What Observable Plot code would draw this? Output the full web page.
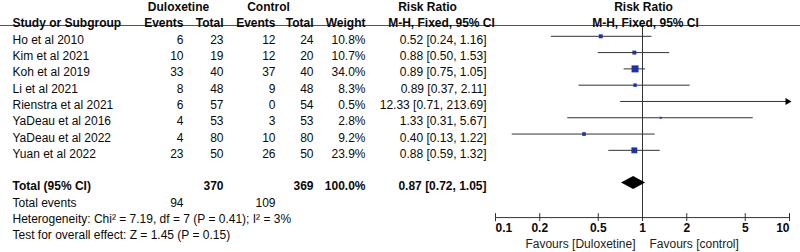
<!DOCTYPE html>
<html><head><meta charset="utf-8">
<script src="https://cdn.jsdelivr.net/npm/d3@7"></script>
<script src="https://cdn.jsdelivr.net/npm/@observablehq/plot@0.6"></script>
<style>html,body{margin:0;padding:0;background:#fff} svg{display:block}</style>
</head><body><div id="chart"></div>
<script>
// ---- data ----
const studies   = ["Ho et al 2010","Kim et al 2021","Koh et al 2019","Li et al 2021","Rienstra et al 2021","YaDeau et al 2016","YaDeau et al 2022","Yuan et al 2022"];
const dulEvents = [6, 10, 33, 8, 6, 4, 4, 23];
const dulTotal  = [23, 19, 40, 48, 57, 53, 80, 50];
const ctlEvents = [12, 12, 37, 9, 0, 3, 10, 26];
const ctlTotal  = [24, 20, 40, 48, 54, 53, 80, 50];
const weights   = [10.8, 10.7, 34.0, 8.3, 0.5, 2.8, 9.2, 23.9];
const riskRatio = [0.52, 0.88, 0.89, 0.89, 12.33, 1.33, 0.40, 0.88];
const ciLow     = [0.24, 0.50, 0.75, 0.37, 0.71, 0.31, 0.13, 0.59];
const ciHigh    = [1.16, 1.53, 1.05, 2.11, 213.69, 5.67, 1.22, 1.32];
const pooledRR  = [0.87, 0.72, 1.05];      // estimate, low, high
const totalN    = [370, 369];              // duloxetine, control
const totalEvents = [94, 109];
const totalWeight = 100.0;
const heterogeneity = "Heterogeneity: Chi² = 7.19, df = 7 (P = 0.41); I² = 3%";
const overallEffect = "Test for overall effect: Z = 1.45 (P = 0.15)";
const axisTicks  = [0.1, 0.2, 0.5, 1, 2, 5, 10];
const tickLabels = ["0.1", "0.2", "0.5", "1", "2", "5", "10"];
const favours    = ["Favours [Duloxetine]", "Favours [control]"];
const groupHeads = ["Duloxetine", "Control", "Risk Ratio", "Risk Ratio"];
const colHeads   = ["Study or Subgroup", "Events", "Total", "Events", "Total", "Weight", "M-H, Fixed, 95% CI", "M-H, Fixed, 95% CI"];

// ---- table ----
const f2 = v => v.toFixed(2);
const rows = studies.map((name, i) => ({
  i, name, de: dulEvents[i], dt: dulTotal[i], ce: ctlEvents[i], ct: ctlTotal[i],
  w: weights[i], rr: riskRatio[i], lo: ciLow[i], hi: ciHigh[i],
  label: `${f2(riskRatio[i])} [${f2(ciLow[i])}, ${f2(ciHigh[i])}]`
}));
const xMax = axisTicks[axisTicks.length - 1];

// row layout (in row units)
const R = {group: -2.03, head: -1.04, rule: -0.89, total: 9, events: 10, het: 11, test: 12,
           axis: 10.9, tickLab: 11.57, fav: 12.55};
const FOREST_DY = -3.7;   // graphic marks sit slightly above the text baseline row

const FONT = "Liberation Sans, Arial, Helvetica, sans-serif";
const INK = "#0a0a0a";
function txt(str, xPx, row, anchor, bold) {
  return Plot.text([str], {text: d => d, frameAnchor: "left", y: () => row, dx: xPx,
    textAnchor: anchor, fontWeight: bold ? "bold" : "normal", fontSize: 12, fill: INK});
}
function col(field, xPx, anchor) {
  return Plot.text(rows, {text: field, frameAnchor: "left", y: "i", dx: xPx,
    textAnchor: anchor, fontSize: 12, fill: INK});
}

const diamond = [
  {y: R.total - 0.4, x1: pooledRR[0], x2: pooledRR[0]},
  {y: R.total,       x1: pooledRR[1], x2: pooledRR[2]},
  {y: R.total + 0.4, x1: pooledRR[0], x2: pooledRR[0]}
];

const headX = [178, 268, 427, 643];
const colX  = [12, 183, 223, 275, 313, 365, 441, 645];
const colA  = ["start", "end", "end", "end", "end", "end", "middle", "middle"];

const marks = [
  Plot.ruleY([R.rule], {stroke: "#555", strokeWidth: 1}),
  Plot.ruleX([1], {y1: R.rule, y2: R.axis, stroke: "#333", strokeWidth: 1}),
  // headers
  ...groupHeads.map((h, k) => txt(h, headX[k], R.group, "middle", true)),
  ...colHeads.map((h, k) => txt(h, colX[k], R.head, colA[k], true)),
  // study rows
  col("name", 12, "start"),
  col("de", 183, "end"),
  col("dt", 223, "end"),
  col("ce", 275, "end"),
  col("ct", 313, "end"),
  col(d => d.w.toFixed(1) + "%", 365, "end"),
  col("label", 486, "end"),
  // total rows
  txt("Total (95% CI)", 12, R.total, "start", true),
  txt(String(totalN[0]), 223, R.total, "end", true),
  txt(String(totalN[1]), 313, R.total, "end", true),
  txt(totalWeight.toFixed(1) + "%", 365, R.total, "end", true),
  txt(`${f2(pooledRR[0])} [${f2(pooledRR[1])}, ${f2(pooledRR[2])}]`, 486, R.total, "end", true),
  txt("Total events", 12, R.events, "start", false),
  txt(String(totalEvents[0]), 183, R.events, "end", false),
  txt(String(totalEvents[1]), 275, R.events, "end", false),
  txt(heterogeneity, 12, R.het, "start", false),
  txt(overallEffect, 12, R.test, "start", false),
  // CI lines
  Plot.ruleY(rows, {y: "i", x1: "lo", x2: d => Math.min(d.hi, xMax), dy: FOREST_DY, stroke: "#333", strokeWidth: 1}),
  Plot.dot(rows.filter(d => d.hi > xMax), {x: () => xMax, y: "i", symbol: "triangle", rotate: 90, r: 2.6, dx: -2, dy: FOREST_DY, fill: "#000", stroke: "none"}),
  Plot.dot(rows.filter(d => d.rr <= xMax), {x: "rr", y: "i", r: "w", symbol: "square", dy: FOREST_DY, fill: "#1c32a6", stroke: "none"}),
  Plot.areaX(diamond, {y: "y", x1: "x1", x2: "x2", dy: FOREST_DY, fill: "#000"}),
  // axis
  Plot.ruleY([R.axis], {x1: axisTicks[0], x2: xMax, stroke: "#333", strokeWidth: 1}),
  Plot.ruleX(axisTicks, {x: d => d, y1: () => R.axis, y2: () => R.axis, insetTop: -4, insetBottom: -4, stroke: "#333"}),
  Plot.text(axisTicks.slice(1, -1), {x: d => d, y: () => R.tickLab, text: (d, i) => tickLabels[i + 1], textAnchor: "middle", fontWeight: "bold", fontSize: 12, fill: INK}),
  Plot.text([axisTicks[0]], {x: d => d, y: () => R.tickLab, text: () => tickLabels[0], textAnchor: "start", fontWeight: "bold", fontSize: 12, fill: INK}),
  Plot.text([xMax], {x: d => d, y: () => R.tickLab, text: () => tickLabels[tickLabels.length - 1], textAnchor: "end", fontWeight: "bold", fontSize: 12, fill: INK}),
  Plot.text([favours[0]], {x: () => 1, y: () => R.fav, text: d => d, dx: -7, textAnchor: "end", fontSize: 12, fill: "#222"}),
  Plot.text([favours[1]], {x: () => 1, y: () => R.fav, text: d => d, dx: 7, textAnchor: "start", fontSize: 12, fill: "#222"})
];

const chart = Plot.plot({
  width: 800, height: 252,
  marginTop: 0, marginRight: 0, marginBottom: 0, marginLeft: 0,
  style: {fontFamily: FONT, fontSize: "12px", background: "#fff", overflow: "visible"},
  x: {type: "log", domain: [axisTicks[0], xMax], range: [495, 789], axis: null},
  y: {type: "linear", domain: [0, 12], range: [39.5, 235], axis: null},
  r: {type: "sqrt", domain: [0, 34], range: [0, 3.95]},
  marks
});
document.getElementById("chart").appendChild(chart);
</script>
</body></html>
